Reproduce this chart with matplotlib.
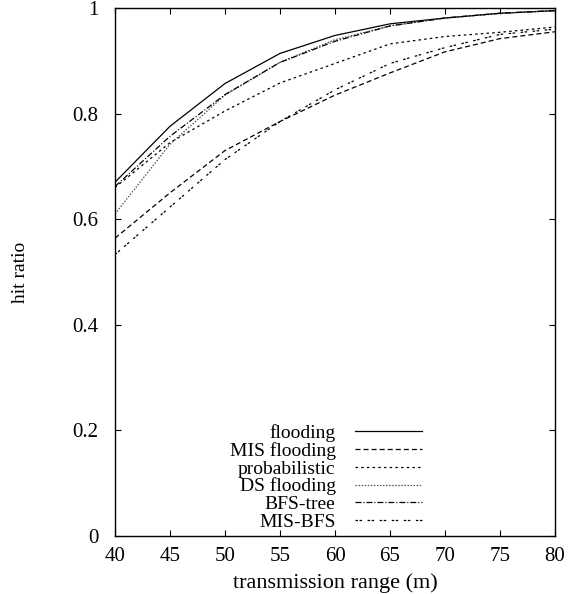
import matplotlib
matplotlib.use("Agg")
import matplotlib.pyplot as plt

plt.rcParams['font.family'] = ['Liberation Serif', 'DejaVu Serif']
plt.rcParams['lines.scale_dashes'] = False

x = [40, 45, 50, 55, 60, 65, 70, 75, 80]
flooding      = [0.670, 0.776, 0.857, 0.914, 0.948, 0.970, 0.981, 0.990, 0.995]
mis_flooding  = [0.564, 0.650, 0.730, 0.785, 0.835, 0.877, 0.917, 0.942, 0.955]
probabilistic = [0.660, 0.745, 0.805, 0.858, 0.895, 0.932, 0.946, 0.954, 0.964]
ds_flooding   = [0.610, 0.742, 0.835, 0.897, 0.940, 0.966, 0.981, 0.990, 0.995]
bfs_tree      = [0.662, 0.757, 0.836, 0.897, 0.937, 0.966, 0.981, 0.990, 0.995]
mis_bfs       = [0.533, 0.623, 0.713, 0.785, 0.845, 0.895, 0.925, 0.950, 0.960]

labels = ['flooding', 'MIS flooding', 'probabilistic', 'DS flooding', 'BFS-tree', 'MIS-BFS']
series = [flooding, mis_flooding, probabilistic, ds_flooding, bfs_tree, mis_bfs]
styles = [
    dict(color='black', linestyle='-'),
    dict(color='black', dashes=(3.6, 2.2)),
    dict(color='black', dashes=(1.8, 2.3)),
    dict(color='#555555', dashes=(1.1, 1.1)),
    dict(color='black', dashes=(4.3, 1.4, 0.8, 1.4)),
    dict(color='black', dashes=(1.8, 1.1, 1.8, 4.0)),
]

fig = plt.figure(figsize=(5.85, 5.94), dpi=100)
ax = fig.add_axes([115/585, 1 - 536/594, 440/585, 528/594])

for y, lab, st in zip(series, labels, styles):
    ax.plot(x, y, linewidth=0.9, label=lab, **st)

ax.set_xlim(40, 80)
ax.set_ylim(0, 1)
ax.set_xticks(range(40, 81, 5))
ax.set_yticks([0, 0.2, 0.4, 0.6, 0.8, 1.0])
ax.set_yticklabels(['0', '0.2', '0.4', '0.6', '0.8', '1'])
ax.tick_params(direction='in', length=4, width=0.8, top=True, right=True,
               labelsize=15)
ax.tick_params(axis='x', pad=8)
ax.tick_params(axis='y', pad=12)
for s in ax.spines.values():
    s.set_linewidth(1.0)

ax.set_xlabel('transmission range (m)', fontsize=16, labelpad=5)
ax.set_ylabel('hit ratio', fontsize=14)
ax.yaxis.set_label_coords(-0.195, 0.5)

leg = ax.legend(loc='lower right', bbox_to_anchor=(0.698, 0.010), frameon=False,
                markerfirst=False, fontsize=14, handlelength=3.45,
                handletextpad=1.0, labelspacing=0.0, borderpad=0.0,
                borderaxespad=0.0)

fig.savefig('out.png', dpi=100)
